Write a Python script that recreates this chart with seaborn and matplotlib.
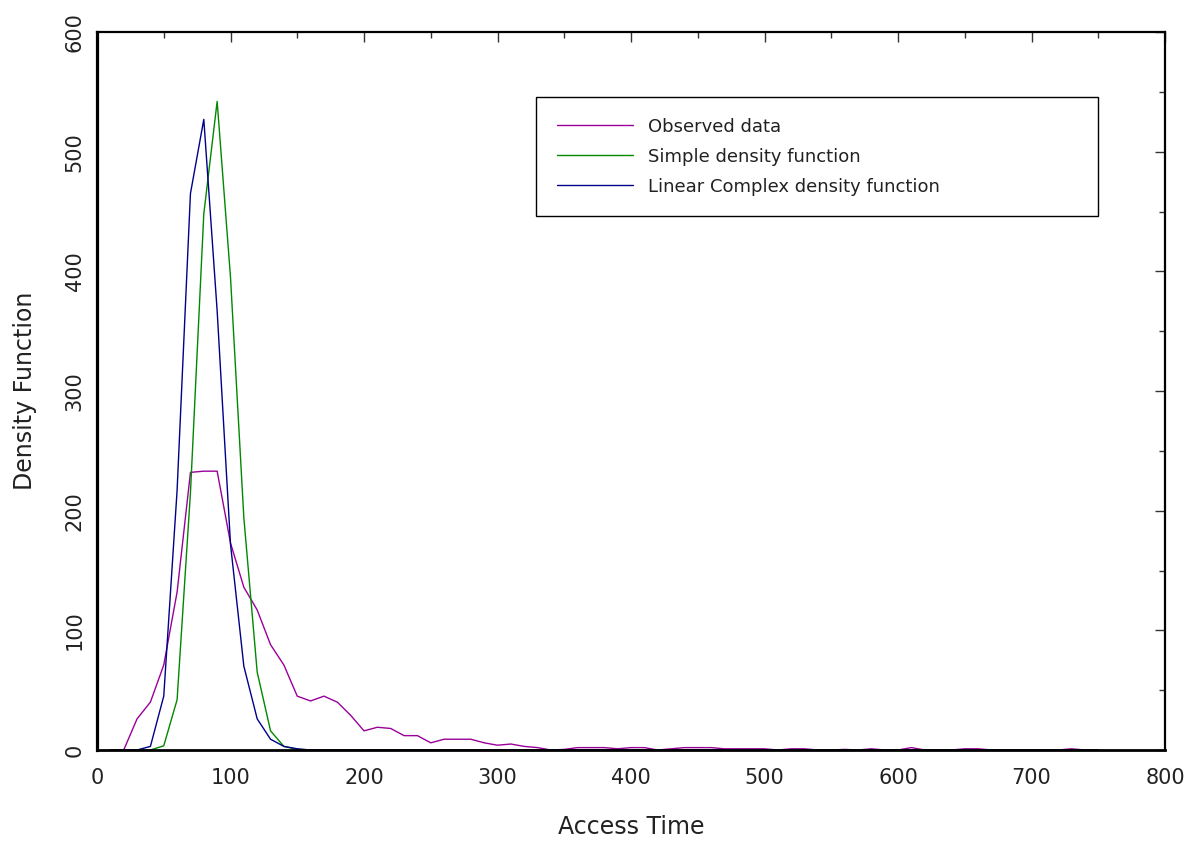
import numpy as np
import pandas as pd
import matplotlib
matplotlib.use("Agg")
import matplotlib.pyplot as plt
import seaborn as sns
from matplotlib.ticker import MultipleLocator

# ---- data ----
access_time = list(range(10, 760, 10))

observed = [0, 0, 26, 40, 71, 132, 232, 233, 233, 173,
            136, 117, 88, 71, 45, 41, 45, 40, 29, 16,
            19, 18, 12, 12, 6, 9, 9, 9, 6, 4,
            5, 3, 2, 0, 0.5, 2, 2, 2, 1, 2,
            2, 0, 1, 2, 2, 2, 1, 1, 1, 1,
            0, 1, 1, 0, 0, 0.5, 0, 1, 0, 0,
            2, 0, 0, 0, 1, 1, 0, 0, 0, 0,
            0, 0, 1, 0, 0]

simple = [0, 0, 0, 0, 3.5, 42, 215, 448, 542, 395,
          194, 65, 16, 3, 0.5, 0, 0, 0, 0, 0,
          0, 0, 0, 0, 0, 0, 0, 0, 0, 0,
          0, 0, 0, 0, 0, 0, 0, 0, 0, 0,
          0, 0, 0, 0, 0, 0, 0, 0, 0, 0,
          0, 0, 0, 0, 0, 0, 0, 0, 0, 0,
          0, 0, 0, 0, 0, 0, 0, 0, 0, 0,
          0, 0, 0, 0, 0]

linear_complex = [0, 0, 0, 3, 45, 217, 465, 527, 367, 172,
                  70, 26, 9, 3, 1, 0, 0, 0, 0, 0,
                  0, 0, 0, 0, 0, 0, 0, 0, 0, 0,
                  0, 0, 0, 0, 0, 0, 0, 0, 0, 0,
                  0, 0, 0, 0, 0, 0, 0, 0, 0, 0,
                  0, 0, 0, 0, 0, 0, 0, 0, 0, 0,
                  0, 0, 0, 0, 0, 0, 0, 0, 0, 0,
                  0, 0, 0, 0, 0]

labels = ["Observed data", "Simple density function", "Linear Complex density function"]
colors = ["#990099", "#008800", "#000088"]

series = [observed, simple, linear_complex]

# ---- plot ----
sns.set_theme(style="white")
plt.rcParams["font.family"] = ["DejaVu Sans"]

fig = plt.figure(figsize=(11.98, 8.44), dpi=100)
ax = fig.add_axes([97 / 1198, 1 - 750 / 844, (1165 - 97) / 1198, (750 - 32) / 844])

for vals, lab, col in zip(series, labels, colors):
    df = pd.DataFrame({"Access Time": access_time, "Density": vals})
    sns.lineplot(data=df, x="Access Time", y="Density", ax=ax, color=col,
                 linewidth=1.0, label=lab)

ax.set_xlim(0, 800)
ax.set_ylim(0, 600)
ax.xaxis.set_major_locator(MultipleLocator(100))
ax.xaxis.set_minor_locator(MultipleLocator(50))
ax.yaxis.set_major_locator(MultipleLocator(100))
ax.yaxis.set_minor_locator(MultipleLocator(50))

for side, sp in ax.spines.items():
    sp.set_visible(True)
    sp.set_color("black")
    sp.set_linewidth(1.6)
ax.spines["left"].set_linewidth(2.3)
ax.spines["bottom"].set_linewidth(2.0)

ax.tick_params(axis="both", which="major", direction="in", length=7, width=1,
               color="#333333", top=True, right=True, labelsize=15,
               labelcolor="#222222")
ax.tick_params(axis="both", which="minor", direction="in", length=4.5, width=1,
               color="#333333", top=True, right=True)
ax.tick_params(axis="x", which="major", pad=13)
ax.tick_params(axis="y", which="major", pad=9)
for t in ax.get_yticklabels():
    t.set_rotation(90)
    t.set_verticalalignment("center")
    t.set_horizontalalignment("right")

ax.set_xlabel("Access Time", fontsize=17, color="#222222")
ax.set_ylabel("Density Function", fontsize=17, color="#222222")
ax.xaxis.set_label_coords(0.5, -0.09)
ax.yaxis.set_label_coords(-0.056, 0.5)

leg = ax.legend(loc="upper left",
                bbox_to_anchor=((536 - 97) / 1068, (750 - 97) / 718,
                                (1098 - 536) / 1068, 0.0),
                mode="expand", fontsize=13, frameon=True, fancybox=False,
                edgecolor="black", framealpha=1, handlelength=4.2,
                handletextpad=0.85, labelspacing=0.66, borderpad=1.15,
                borderaxespad=0)
leg.get_frame().set_linewidth(1.0)
for t in leg.get_texts():
    t.set_color("#222222")

fig.savefig("out.png", dpi=100)
